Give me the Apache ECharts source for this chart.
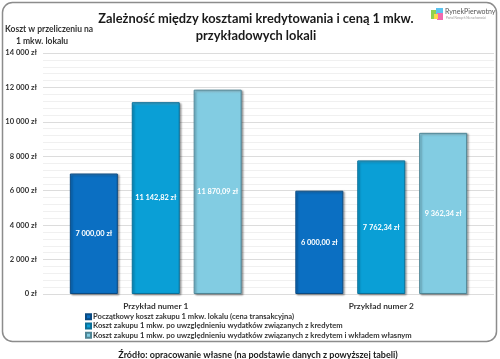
<!DOCTYPE html>
<html><head><meta charset="utf-8">
<script src="https://cdn.jsdelivr.net/npm/echarts@6/dist/echarts.min.js"></script>
<style>html,body{margin:0;padding:0;background:#fff}#c{width:500px;height:359px}</style>
</head><body><div id="c"></div>
<script>
const categories = ['Przykład numer 1', 'Przykład numer 2'];
const seriesNames = [
  'Początkowy koszt zakupu 1 mkw. lokalu (cena transakcyjna)',
  'Koszt zakupu 1 mkw. po uwzględnieniu wydatków związanych z kredytem',
  'Koszt zakupu 1 mkw. po uwzględnieniu wydatków związanych z kredytem i wkładem własnym'
];
const initialCost = [7000.00, 6000.00];
const creditCost = [11142.82, 7762.34];
const creditOwnCost = [11870.09, 9362.34];
const yTicks = [0, 2000, 4000, 6000, 8000, 10000, 12000, 14000];

const FONT = 'Lato, "Liberation Sans", sans-serif';
function grp(n) { return String(n).replace(/\B(?=(\d{3})+(?!\d))/g, ' '); }
function money(v) {
  const p = v.toFixed(2).split('.');
  return grp(p[0]) + ',' + p[1] + ' zł';
}
const colors = ['#0b6fc2', '#0a9fd6', '#82cce2'];
const borders = ['#0a4a82', '#0a6f98', '#4f8595'];
const datasets = [initialCost, creditCost, creditOwnCost];

const chart = echarts.init(document.getElementById('c'));
chart.setOption({
  animation: false,
  textStyle: { fontFamily: FONT },
  title: [{
    text: 'Zależność między kosztami kredytowania i ceną 1 mkw.\nprzykładowych lokali',
    left: 251, top: 5, textAlign: 'center',
    textStyle: { fontFamily: FONT, fontSize: 12.8, fontWeight: 'bold', color: '#1a1a1a', lineHeight: 17 }
  }, {
    text: 'Źródło: opracowanie własne (na podstawie danych z powyższej tabeli)',
    left: 253, top: 346, textAlign: 'center',
    textStyle: { fontFamily: FONT, fontSize: 9, fontWeight: 'bold', color: '#1a1a1a' }
  }],
  legend: {
    orient: 'vertical', left: 80, top: 312, itemWidth: 5, itemHeight: 5, itemGap: 0,
    icon: 'rect', padding: [0, 5, 0, 5],
    textStyle: { fontFamily: FONT, fontSize: 7.6, fontWeight: 'bold', color: '#333', lineHeight: 9.3, padding: [0, 0, 0, -3] },
    data: seriesNames
  },
  grid: { left: 43, right: 6, top: 53, bottom: 65 },
  xAxis: {
    type: 'category', data: categories,
    axisLine: { show: false }, axisTick: { show: false },
    axisLabel: { fontFamily: FONT, fontSize: 8.3, fontWeight: 'bold', color: '#333', margin: 8 }
  },
  yAxis: {
    type: 'value', min: 0, max: 14000, interval: 2000,
    axisLine: { show: false }, axisTick: { show: false },
    axisLabel: { fontFamily: FONT, fontSize: 7.6, fontWeight: 'bold', color: '#333', margin: 6,
      formatter: v => yTicks.includes(v) ? grp(v) + ' zł' : '' },
    splitLine: { lineStyle: { color: '#dcdcdc', width: 1 } },
    minorTick: { show: false, splitNumber: 5 },
    minorSplitLine: { show: true, lineStyle: { color: '#f0f0f0', width: 1 } }
  },
  series: datasets.map((d, i) => ({
    name: seriesNames[i], type: 'bar', data: d,
    barWidth: 48, barGap: '29%',
    itemStyle: {
      color: new echarts.graphic.LinearGradient(0, 0, 0, 1, [
        { offset: 0, color: echarts.color.lift(colors[i], 0.25) },
        { offset: 0.02, color: colors[i] },
        { offset: 1, color: colors[i] }
      ]),
      borderColor: borders[i], borderWidth: 1,
      shadowColor: 'rgba(0,0,0,0.35)', shadowBlur: 2, shadowOffsetX: 1.5, shadowOffsetY: 1
    },
    label: {
      show: true, position: 'inside', color: '#fff', fontFamily: FONT, fontSize: 7.4, fontWeight: 'bold',
      formatter: p => money(p.value)
    }
  })),
  graphic: [
    { type: 'rect', shape: { x: 2.5, y: 2.5, width: 494, height: 339, r: 10 },
      style: { fill: 'none', stroke: '#8c8c8c', lineWidth: 1.5 }, z: -1, silent: true },
    { type: 'text', left: 5, top: 25,
      style: { text: 'Koszt w przeliczeniu na', fontFamily: FONT, fontSize: 8.5, fontWeight: 'bold', fill: '#333' } },
    { type: 'text', left: 16, top: 37,
      style: { text: '1 mkw. lokalu', fontFamily: FONT, fontSize: 8.5, fontWeight: 'bold', fill: '#333' } },
    // logo
    { type: 'rect', shape: { x: 431, y: 10, width: 6, height: 9 }, style: { fill: '#8fd14f' } },
    { type: 'rect', shape: { x: 436, y: 8, width: 7, height: 6 }, style: { fill: '#5bc3f0' } },
    { type: 'rect', shape: { x: 437, y: 13, width: 6, height: 7 }, style: { fill: '#f06ab0' } },
    { type: 'rect', shape: { x: 434, y: 14, width: 4, height: 5 }, style: { fill: '#ffd54a' } },
    { type: 'text', left: 445, top: 8,
      style: { text: 'RynekPierwotny', fontFamily: FONT, fontSize: 7, fill: '#555' } },
    { type: 'text', left: 446, top: 17,
      style: { text: 'Portal Nowych Nieruchomości', fontFamily: FONT, fontSize: 3, fill: '#999' } }
  ]
});
</script></body></html>
